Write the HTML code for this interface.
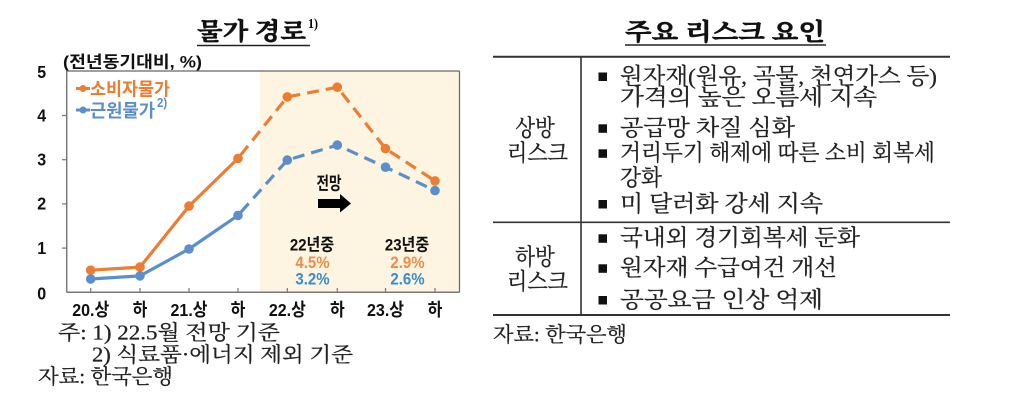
<!DOCTYPE html>
<html><head><meta charset="utf-8"><style>
html,body{margin:0;padding:0;background:#fff;}
svg{display:block;}
.sb{font-family:"Liberation Sans","Noto Sans CJK KR",sans-serif;font-weight:bold;}
.sf{font-family:"Liberation Serif","Noto Serif CJK SC",serif;}
</style></head><body>
<svg width="1024" height="413" viewBox="0 0 1024 413" xmlns="http://www.w3.org/2000/svg">
<rect width="1024" height="413" fill="#fff"/>

<!-- LEFT TITLE -->
<text class="sf" font-weight="bold" font-size="21" fill="#111" stroke="#111" stroke-width="0.5" dominant-baseline="central" transform="translate(197,31.5) scale(1,1.14)" textLength="109" lengthAdjust="spacingAndGlyphs">물가 경로</text>
<text class="sf" font-weight="bold" font-size="12" dominant-baseline="central" transform="translate(308,24) scale(1,1.12)">1)</text>
<line x1="197" y1="45.5" x2="310" y2="45.5" stroke="#222" stroke-width="1.5"/>

<!-- Y axis title -->
<text class="sb" font-size="14.5" fill="#111" dominant-baseline="central" transform="translate(63,63) scale(1,1.12)" textLength="139" lengthAdjust="spacingAndGlyphs">(전년동기대비, %)</text>

<!-- shaded forecast region -->
<rect x="260" y="71" width="199.5" height="221.3" fill="#fdf5e1"/>
<!-- frame -->
<line x1="66.7" y1="71" x2="459.5" y2="71" stroke="#666" stroke-width="1.2"/>
<line x1="459.5" y1="71" x2="459.5" y2="292.3" stroke="#666" stroke-width="1.2"/>
<line x1="66.7" y1="71" x2="66.7" y2="292.3" stroke="#777" stroke-width="1.5"/>
<line x1="66.7" y1="292.3" x2="459.5" y2="292.3" stroke="#777" stroke-width="1.5"/>

<!-- ticks -->
<g stroke="#777" stroke-width="1.2">
<line x1="62" y1="248.1" x2="66.7" y2="248.1"/>
<line x1="62" y1="203.9" x2="66.7" y2="203.9"/>
<line x1="62" y1="159.7" x2="66.7" y2="159.7"/>
<line x1="62" y1="115.5" x2="66.7" y2="115.5"/>
<line x1="90.7" y1="288" x2="90.7" y2="292.3"/>
<line x1="140" y1="288" x2="140" y2="292.3"/>
<line x1="189" y1="288" x2="189" y2="292.3"/>
<line x1="238" y1="288" x2="238" y2="292.3"/>
<line x1="287.3" y1="288" x2="287.3" y2="292.3"/>
<line x1="337.3" y1="288" x2="337.3" y2="292.3"/>
<line x1="385.5" y1="288" x2="385.5" y2="292.3"/>
<line x1="435" y1="288" x2="435" y2="292.3"/>
</g>

<!-- y tick labels -->
<g class="sb" font-size="16" text-anchor="middle" fill="#111">
<text transform="translate(41.7,72) scale(1,1.1)" dominant-baseline="central">5</text>
<text transform="translate(41.7,115.5) scale(1,1.1)" dominant-baseline="central">4</text>
<text transform="translate(41.7,159.7) scale(1,1.1)" dominant-baseline="central">3</text>
<text transform="translate(41.7,203.9) scale(1,1.1)" dominant-baseline="central">2</text>
<text transform="translate(41.7,248.1) scale(1,1.1)" dominant-baseline="central">1</text>
<text transform="translate(41.7,293.5) scale(1,1.1)" dominant-baseline="central">0</text>
</g>

<!-- x labels -->
<g class="sb" font-size="16" fill="#111" text-anchor="middle">
<text transform="translate(90.7,310) scale(1,1.12)" dominant-baseline="central">20.상</text>
<text transform="translate(140,310) scale(1,1.12)" dominant-baseline="central">하</text>
<text transform="translate(189,310) scale(1,1.12)" dominant-baseline="central">21.상</text>
<text transform="translate(238,310) scale(1,1.12)" dominant-baseline="central">하</text>
<text transform="translate(287.3,310) scale(1,1.12)" dominant-baseline="central">22.상</text>
<text transform="translate(337.3,310) scale(1,1.12)" dominant-baseline="central">하</text>
<text transform="translate(385.5,310) scale(1,1.12)" dominant-baseline="central">23.상</text>
<text transform="translate(435,310) scale(1,1.12)" dominant-baseline="central">하</text>
</g>

<!-- CPI series -->
<polyline points="90.7,270.2 140,267.1 189,206.1 238,158.4" fill="none" stroke="#ed7d31" stroke-width="3.2" stroke-linejoin="round"/>
<polyline points="238,158.4 287.3,96.9 337.3,87.2 385.5,148.6 435,180.9" fill="none" stroke="#ed7d31" stroke-width="3.2" stroke-dasharray="12 7" stroke-dashoffset="-4"/>
<!-- Core series -->
<polyline points="90.7,279 140,275.9 189,249 238,215.4" fill="none" stroke="#5b8fcb" stroke-width="3.2" stroke-linejoin="round"/>
<polyline points="238,215.4 287.3,160.1 337.3,145.1 385.5,167.2 435,190.6" fill="none" stroke="#5b8fcb" stroke-width="3.2" stroke-dasharray="12 7" stroke-dashoffset="-4"/>
<g fill="#ed7d31">
<circle cx="90.7" cy="270.2" r="4.8"/><circle cx="140" cy="267.1" r="4.8"/><circle cx="189" cy="206.1" r="4.8"/><circle cx="238" cy="158.4" r="4.8"/>
<circle cx="287.3" cy="96.9" r="4.8"/><circle cx="337.3" cy="87.2" r="4.8"/><circle cx="385.5" cy="148.6" r="4.8"/><circle cx="435" cy="180.9" r="4.8"/>
</g>
<g fill="#5b8fcb">
<circle cx="90.7" cy="279" r="4.8"/><circle cx="140" cy="275.9" r="4.8"/><circle cx="189" cy="249" r="4.8"/><circle cx="238" cy="215.4" r="4.8"/>
<circle cx="287.3" cy="160.1" r="4.8"/><circle cx="337.3" cy="145.1" r="4.8"/><circle cx="385.5" cy="167.2" r="4.8"/><circle cx="435" cy="190.6" r="4.8"/>
</g>

<!-- legend -->
<line x1="76" y1="88.5" x2="90" y2="88.5" stroke="#ed7d31" stroke-width="3"/>
<circle cx="83" cy="88.5" r="3.5" fill="#ed7d31"/>
<text class="sb" font-size="16.5" fill="#ed7d31" dominant-baseline="central" transform="translate(90,89) scale(1,1.12)" textLength="80" lengthAdjust="spacingAndGlyphs">소비자물가</text>
<line x1="76" y1="110" x2="90" y2="110" stroke="#5b8fcb" stroke-width="3"/>
<circle cx="83" cy="110" r="3.5" fill="#5b8fcb"/>
<text class="sb" font-size="16.5" fill="#5b8fcb" dominant-baseline="central" transform="translate(90,110.5) scale(1,1.12)" textLength="65" lengthAdjust="spacingAndGlyphs">근원물가</text>
<text class="sb" font-size="11.5" fill="#5b8fcb" dominant-baseline="central" transform="translate(157,103) scale(1,1.1)">2)</text>

<!-- forecast annotation -->
<text class="sb" font-size="15.5" fill="#111" dominant-baseline="central" transform="translate(316.5,184) scale(1,1.12)" textLength="25" lengthAdjust="spacingAndGlyphs">전망</text>
<rect x="318" y="199" width="23" height="9" fill="#000"/>
<polygon points="340,194 351,203.5 340,212.5" fill="#000"/>

<g class="sb" font-size="15" text-anchor="middle">
<text transform="translate(312,245.7) scale(1,1.12)" dominant-baseline="central" fill="#111">22년중</text>
<text transform="translate(312.5,263.3) scale(1,1.12)" dominant-baseline="central" fill="#ef8c4a">4.5%</text>
<text transform="translate(312.5,280) scale(1,1.12)" dominant-baseline="central" fill="#3a8ccd">3.2%</text>
<text transform="translate(407,245.7) scale(1,1.12)" dominant-baseline="central" fill="#111">23년중</text>
<text transform="translate(407.5,263.3) scale(1,1.12)" dominant-baseline="central" fill="#ef8c4a">2.9%</text>
<text transform="translate(407.5,280) scale(1,1.12)" dominant-baseline="central" fill="#3a8ccd">2.6%</text>
</g>

<!-- left footnotes -->
<g class="sf" font-size="18.5" fill="#222" stroke="#222" stroke-width="0.25">
<text transform="translate(58,333) scale(1,1.12)" dominant-baseline="central" textLength="222" lengthAdjust="spacingAndGlyphs">주: 1) 22.5월 전망 기준</text>
<text transform="translate(92,355) scale(1,1.12)" dominant-baseline="central" textLength="261" lengthAdjust="spacingAndGlyphs">2) 식료품·에너지 제외 기준</text>
<text transform="translate(38,377) scale(1,1.12)" dominant-baseline="central" textLength="135" lengthAdjust="spacingAndGlyphs">자료: 한국은행</text>
</g>

<!-- RIGHT TITLE -->
<text class="sf" font-weight="bold" font-size="21" fill="#111" stroke="#111" stroke-width="0.5" dominant-baseline="central" transform="translate(625,32) scale(1,1.14)" textLength="200" lengthAdjust="spacingAndGlyphs">주요 리스크 요인</text>
<line x1="625" y1="45" x2="826" y2="45" stroke="#222" stroke-width="1.5"/>

<!-- table lines -->
<line x1="493" y1="56.7" x2="950" y2="56.7" stroke="#333" stroke-width="2"/>
<line x1="493" y1="222.3" x2="950" y2="222.3" stroke="#333" stroke-width="1.6"/>
<line x1="493" y1="315" x2="950" y2="315" stroke="#333" stroke-width="2"/>
<line x1="581" y1="56.7" x2="581" y2="315" stroke="#333" stroke-width="1.6"/>

<!-- row labels -->
<g class="sf" font-size="20.5" fill="#222" stroke="#222" stroke-width="0.25" text-anchor="middle">
<text transform="translate(535,128.3) scale(1,1.12)" dominant-baseline="central">상방</text>
<text transform="translate(537.5,153.3) scale(1,1.12)" dominant-baseline="central" textLength="61" lengthAdjust="spacingAndGlyphs">리스크</text>
<text transform="translate(535,257.3) scale(1,1.12)" dominant-baseline="central">하방</text>
<text transform="translate(537.5,281.7) scale(1,1.12)" dominant-baseline="central" textLength="61" lengthAdjust="spacingAndGlyphs">리스크</text>
</g>

<!-- bullets -->
<g fill="#111">
<rect x="598.5" y="72.5" width="8.5" height="8.5"/>
<rect x="598.5" y="124.3" width="8.5" height="8.5"/>
<rect x="598.5" y="149.3" width="8.5" height="8.5"/>
<rect x="598.5" y="200" width="8.5" height="8.5"/>
<rect x="598.5" y="234.3" width="8.5" height="8.5"/>
<rect x="598.5" y="264.3" width="8.5" height="8.5"/>
<rect x="598.5" y="296" width="8.5" height="8.5"/>
</g>

<!-- item text -->
<g class="sf" font-size="20.5" fill="#222" stroke="#222" stroke-width="0.25">
<text transform="translate(620,76.7) scale(1,1.1)" dominant-baseline="central" textLength="317" lengthAdjust="spacingAndGlyphs">원자재(원유, 곡물, 천연가스 등)</text>
<text transform="translate(620,97.5) scale(1,1.1)" dominant-baseline="central" textLength="257" lengthAdjust="spacingAndGlyphs">가격의 높은 오름세 지속</text>
<text transform="translate(620,128.3) scale(1,1.1)" dominant-baseline="central" textLength="175" lengthAdjust="spacingAndGlyphs">공급망 차질 심화</text>
<text transform="translate(620,153.3) scale(1,1.1)" dominant-baseline="central" textLength="315" lengthAdjust="spacingAndGlyphs">거리두기 해제에 따른 소비 회복세</text>
<text transform="translate(620,178.3) scale(1,1.1)" dominant-baseline="central" textLength="42" lengthAdjust="spacingAndGlyphs">강화</text>
<text transform="translate(620,204) scale(1,1.1)" dominant-baseline="central" textLength="203" lengthAdjust="spacingAndGlyphs">미 달러화 강세 지속</text>
<text transform="translate(620,238.3) scale(1,1.1)" dominant-baseline="central" textLength="240" lengthAdjust="spacingAndGlyphs">국내외 경기회복세 둔화</text>
<text transform="translate(620,268.3) scale(1,1.1)" dominant-baseline="central" textLength="217" lengthAdjust="spacingAndGlyphs">원자재 수급여건 개선</text>
<text transform="translate(620,300) scale(1,1.1)" dominant-baseline="central" textLength="203" lengthAdjust="spacingAndGlyphs">공공요금 인상 억제</text>
</g>

<text class="sf" font-size="18.5" fill="#222" stroke="#222" stroke-width="0.25" dominant-baseline="central" transform="translate(493,335) scale(1,1.12)" textLength="134" lengthAdjust="spacingAndGlyphs">자료: 한국은행</text>
</svg>
</body></html>
